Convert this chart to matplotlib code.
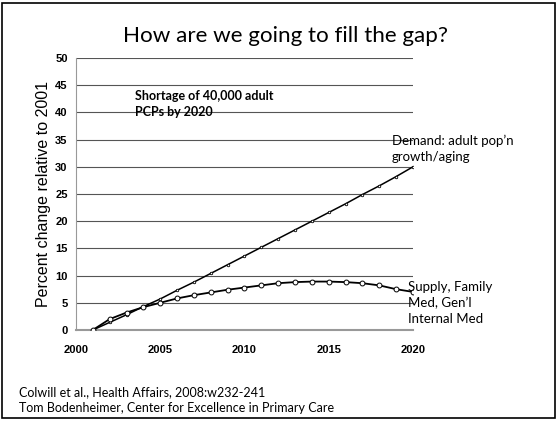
import matplotlib
matplotlib.use("Agg")
import matplotlib.pyplot as plt
from matplotlib.patches import Rectangle

years = list(range(2001, 2021))
demand = [0, 1.4, 2.8, 4.3, 5.7, 7.3, 8.8, 10.4, 12.0, 13.6, 15.2, 16.8, 18.4, 20.0,
          21.6, 23.2, 24.9, 26.5, 28.2, 30.0]
supply = [0, 2.0, 3.2, 4.2, 5.0, 5.8, 6.4, 6.9, 7.4, 7.8, 8.2, 8.6, 8.8, 8.9,
          8.9, 8.8, 8.6, 8.2, 7.5, 7.0]
xticks = [2000, 2005, 2010, 2015, 2020]
yticks = list(range(0, 55, 5))

fig = plt.figure(figsize=(5.57, 4.21), dpi=100)
fig.patch.set_facecolor("white")
fig.add_artist(Rectangle((0.004, 0.007), 0.992, 0.986, transform=fig.transFigure,
                         fill=False, edgecolor="black", linewidth=1.2))

ax = fig.add_axes([0.1364, 0.2162, 0.605, 0.646])
ax.set_xlim(2000, 2020)
ax.set_ylim(0, 50)
ax.set_xticks(xticks)
ax.set_yticks(yticks)
for y in yticks[1:]:
    ax.axhline(y, color="#555555", linewidth=0.8, zorder=0)
for s in ["top", "right"]:
    ax.spines[s].set_visible(False)
ax.spines["left"].set_color("#999999")
ax.spines["bottom"].set_color("#999999")
ax.spines["bottom"].set_linewidth(1.5)
ax.tick_params(axis="y", length=0, pad=6)
ax.tick_params(axis="x", length=0, pad=11)
for lab in ax.get_xticklabels() + ax.get_yticklabels():
    lab.set_fontfamily("Liberation Sans")
    lab.set_fontweight("bold")
    lab.set_fontsize(8)
ax.set_ylabel("Percent change relative to 2001", fontfamily="Liberation Sans",
              fontsize=11.5, labelpad=3)

ax.plot(years, demand, color="black", linewidth=1.1, marker="o", markersize=1.8,
        markerfacecolor="white", markeredgecolor="black", markeredgewidth=0.6, zorder=3)
ax.plot(years, supply, color="black", linewidth=1.3, marker="o", markersize=3.5,
        markerfacecolor="white", markeredgecolor="black", markeredgewidth=0.7, zorder=4)

fig.text(0.513, 0.915, "How are we going to fill the gap?", fontfamily="Lato",
         fontsize=16.1, ha="center", va="center")
ax.text(2003.5, 41.6, "Shortage of 40,000 adult\nPCPs by 2020", fontfamily="Lato",
        fontweight="bold", fontsize=9, ha="left", va="center", linespacing=1.4)
ax.text(2018.75, 33.3, "Demand: adult pop\u2019n\ngrowth/aging", fontfamily="Lato",
        fontsize=9.5, ha="left", va="center", linespacing=1.4)
ax.text(2019.7, 5.0, "Supply, Family\nMed, Gen\u2019l\nInternal Med", fontfamily="Lato",
        fontsize=9.5, ha="left", va="center", linespacing=1.4)

fig.text(0.034, 0.05, "Colwill et al., Health Affairs, 2008:w232-241\nTom Bodenheimer, Center for Excellence in Primary Care",
         fontfamily="Lato", fontsize=9, ha="left", va="center", linespacing=1.45)

fig.savefig("out.png", dpi=100, facecolor="white")
